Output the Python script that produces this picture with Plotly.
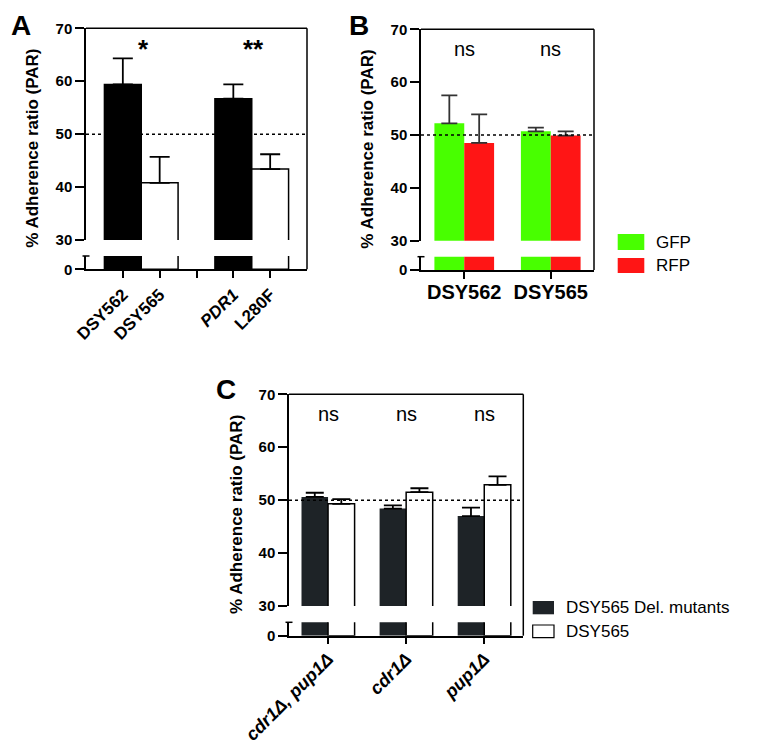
import plotly.graph_objects as go

# page body keeps an 8px margin, so the figure is sized to fit the window exactly
PAGE_OFF = 8
W, H = 780 - 2 * PAGE_OFF, 754 - 2 * PAGE_OFF
FONT = "Arial, Liberation Sans, sans-serif"

# ---------------- data ----------------
# Panel A
A_labels = ["DSY562", "DSY565", "", "<i>PDR1</i>", "L280F"]
A_values = [59.4, 40.8, None, 56.7, 43.4]
A_err = [4.9, 4.9, None, 2.7, 2.8]
A_fill = ["#000000", "#ffffff", "#ffffff", "#000000", "#ffffff"]
A_signif = ["*", "**"]
A_signif_pos = [0.55, 3.55]

# Panel B
B_strains = ["DSY562", "DSY565"]
B_gfp = [52.2, 50.7]
B_gfp_err = [5.3, 0.7]
B_rfp = [48.5, 49.9]
B_rfp_err = [5.4, 0.8]
B_signif = ["ns", "ns"]

# Panel C
C_genes = ["<i>cdr1Δ, pup1Δ</i>", "<i>cdr1Δ</i>", "<i>pup1Δ</i>"]
C_mut = [50.6, 48.4, 47.0]
C_mut_err = [0.8, 0.6, 1.6]
C_wt = [49.3, 51.5, 52.9]
C_wt_err = [0.9, 0.75, 1.6]
C_signif = ["ns", "ns", "ns"]

Y_TITLE = "% Adherence ratio (PAR)"
GFP_COLOR = "#48ff00"
RFP_COLOR = "#ff1515"
MUT_COLOR = "#1e2327"


def xd(px):
    return (px - PAGE_OFF) / W


def yd(py):
    return 1 - (py - PAGE_OFF) / H


# panel geometry in pixels: left, right, top(70), y30, top of lower segment, y0
PANELS = {
    "A": dict(xl=86, xr=307, ytop=28.3, y30=240, low=256, y0=269.3),
    "B": dict(xl=421, xr=594, ytop=29.3, y30=240.7, low=256.7, y0=270),
    "C": dict(xl=289, xr=523.3, ytop=394.3, y30=606, low=622.3, y0=635.7),
}

fig = go.Figure()
layout = dict(
    template="none",
    width=W, height=H, margin=dict(l=0, r=0, t=0, b=0, pad=0),
    paper_bgcolor="white", plot_bgcolor="white",
    barmode="overlay", showlegend=False,
    font=dict(family=FONT, color="black"),
)
shapes = []
annotations = []

LW = 1.5


def setup_axes(idx, key, xrange, tickvals, ticktext, tickangle, tickfont, standoff=0):
    g = PANELS[key]
    lo, up = 2 * idx - 1, 2 * idx
    sfx = lambda n: "" if n == 1 else str(n)
    xl, xr = xd(g["xl"]), xd(g["xr"])
    layout["xaxis" + sfx(lo)] = dict(
        domain=[xl, xr], anchor="y" + sfx(lo), range=xrange, automargin=False,
        tickvals=tickvals, ticktext=ticktext, tickangle=tickangle,
        showline=True, linecolor="black", linewidth=LW,
        ticks="outside", ticklen=7, tickwidth=LW, tickcolor="black",
        showgrid=False, zeroline=False, tickfont=tickfont, fixedrange=True,
        ticklabelstandoff=standoff,
    )
    layout["xaxis" + sfx(up)] = dict(
        domain=[xl, xr], anchor="y" + sfx(up), range=xrange, automargin=False,
        visible=False, showgrid=False, zeroline=False,
    )
    layout["yaxis" + sfx(lo)] = dict(
        domain=[yd(g["y0"]), yd(g["low"])], anchor="x" + sfx(lo), range=[0, 2.5],
        automargin=False,
        tickvals=[0], ticktext=["0"], showline=True, linecolor="black", linewidth=LW,
        ticks="outside", ticklen=9, tickwidth=LW, tickcolor="black",
        showgrid=False, zeroline=False,
        tickfont=dict(family=FONT, size=15, weight="bold"),
    )
    layout["yaxis" + sfx(up)] = dict(
        domain=[yd(g["y30"]), yd(g["ytop"])], anchor="x" + sfx(up), range=[30, 70],
        automargin=False,
        tickvals=[30, 40, 50, 60, 70], showline=True, linecolor="black", linewidth=LW,
        ticks="outside", ticklen=9, tickwidth=LW, tickcolor="black",
        showgrid=False, zeroline=False,
        tickfont=dict(family=FONT, size=15, weight="bold"),
    )
    # frame: top and right
    shapes.append(dict(type="line", xref="paper", yref="paper",
                       x0=xl, x1=xr, y0=yd(g["ytop"]), y1=yd(g["ytop"]),
                       line=dict(color="black", width=LW)))
    shapes.append(dict(type="line", xref="paper", yref="paper",
                       x0=xr, x1=xr, y0=yd(g["ytop"]), y1=yd(g["y0"]),
                       line=dict(color="black", width=LW)))
    # break cap on lower segment
    shapes.append(dict(type="line", xref="paper", yref="paper",
                       x0=xd(g["xl"] - 3.5), x1=xd(g["xl"] + 3.5),
                       y0=yd(g["low"]), y1=yd(g["low"]),
                       line=dict(color="black", width=LW)))
    # dotted 50% reference line
    shapes.append(dict(type="line", xref="x" + sfx(up) + " domain", yref="y" + sfx(up),
                       x0=0, x1=1, y0=50, y1=50,
                       line=dict(color="black", width=1.5, dash="dot")))
    # y title
    annotations.append(dict(text=Y_TITLE, textangle=-90, xref="paper", yref="paper",
                            x=xd(g["xl"] - 53), y=yd((g["ytop"] + g["y0"]) / 2),
                            xanchor="center", yanchor="middle", showarrow=False,
                            font=dict(family=FONT, size=17, weight="bold")))
    return ("x" + sfx(lo), "y" + sfx(lo)), ("x" + sfx(up), "y" + sfx(up))


def add_bars(axes_lo, axes_up, x, y, err, color, line_color, line_width,
             width, offset, err_color, err_width):
    for (xa, ya), with_err in ((axes_lo, False), (axes_up, True)):
        kw = dict(x=x, y=y, xaxis=xa, yaxis=ya, width=width,
                  marker=dict(color=color, line=dict(color=line_color, width=line_width)),
                  hoverinfo="skip")
        if offset is not None:
            kw["offset"] = offset
        if with_err:
            kw["error_y"] = dict(type="data", array=err, arrayminus=[0] * len(err),
                                 symmetric=False, color=err_color,
                                 thickness=1.8, width=err_width)
        fig.add_trace(go.Bar(**kw))


# ---------------- Panel A ----------------
lo, up = setup_axes(1, "A", [-1, 5], list(range(len(A_labels))), A_labels, -45,
                    dict(family=FONT, size=17, weight="bold"))
add_bars(lo, up, list(range(len(A_labels))), A_values,
         [e if e is not None else 0 for e in A_err],
         A_fill, "black", LW, 1.0, None, "black", 10)
for s, p in zip(A_signif, A_signif_pos):
    annotations.append(dict(text=s, x=p, y=66, xref=up[0], yref=up[1],
                            showarrow=False, font=dict(family=FONT, size=26, weight="bold")))

# ---------------- Panel B ----------------
lo, up = setup_axes(2, "B", [-0.5, 1.5], [0, 1], B_strains, 0,
                    dict(family=FONT, size=20, weight="bold"), standoff=-4)
bw = 0.345
add_bars(lo, up, [0, 1], B_gfp, B_gfp_err, GFP_COLOR, GFP_COLOR, 0, bw, -bw, "#333333", 8)
add_bars(lo, up, [0, 1], B_rfp, B_rfp_err, RFP_COLOR, RFP_COLOR, 0, bw, 0, "#333333", 8)
for i, s in enumerate(B_signif):
    annotations.append(dict(text=s, x=i, y=66.3, xref=up[0], yref=up[1],
                            showarrow=False, font=dict(family=FONT, size=20)))

# ---------------- Panel C ----------------
lo, up = setup_axes(3, "C", [-0.5, 2.5], [0, 1, 2], C_genes, -45,
                    dict(family=FONT, size=18, weight="bold"), standoff=-3)
cw = 0.34
add_bars(lo, up, [0, 1, 2], C_mut, C_mut_err, MUT_COLOR, MUT_COLOR, 0, cw, -cw, "black", 9)
add_bars(lo, up, [0, 1, 2], C_wt, C_wt_err, "#ffffff", "black", LW, cw, 0, "black", 9)
for i, s in enumerate(C_signif):
    annotations.append(dict(text=s, x=i, y=66.3, xref=up[0], yref=up[1],
                            showarrow=False, font=dict(family=FONT, size=20)))

# ---------------- panel letters ----------------
for letter, px, py in (("A", 9, 7), ("B", 347, 7), ("C", 214, 372)):
    annotations.append(dict(text=letter, x=xd(max(px, PAGE_OFF + 0.5)), y=yd(max(py, PAGE_OFF + 0.5)),
                            xref="paper", yref="paper",
                            xanchor="left", yanchor="top", showarrow=False,
                            font=dict(family=FONT, size=28, weight="bold")))

# ---------------- legends ----------------
def legend_item(x0, x1, y0, y1, fill, outline, text, tx, size):
    shapes.append(dict(type="rect", xref="paper", yref="paper",
                       x0=xd(x0), x1=xd(x1), y0=yd(y1), y1=yd(y0),
                       fillcolor=fill, line=dict(color=outline, width=1.2 if outline != fill else 0)))
    annotations.append(dict(text=text, x=xd(tx), y=yd((y0 + y1) / 2), xref="paper", yref="paper",
                            xanchor="left", yanchor="middle", showarrow=False,
                            font=dict(family=FONT, size=size)))

legend_item(617.7, 644.3, 234, 250, GFP_COLOR, GFP_COLOR, "GFP", 654, 17)
legend_item(617.7, 644.3, 258, 273, RFP_COLOR, RFP_COLOR, "RFP", 654, 17)
legend_item(532.7, 554, 601, 614.3, MUT_COLOR, MUT_COLOR, "DSY565 Del. mutants", 564, 17)
legend_item(532.7, 554, 625, 637.7, "#ffffff", "black", "DSY565", 564, 17)

layout["shapes"] = shapes
layout["annotations"] = annotations
fig.update_layout(**layout)
fig.write_html("out.html")
